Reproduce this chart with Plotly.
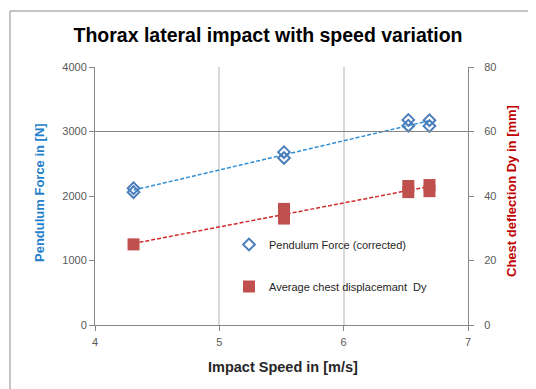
import numpy as np
import plotly.graph_objects as go

# Data
force_speed = [4.31, 4.31, 5.52, 5.52, 6.52, 6.52, 6.69, 6.69]
force_vals = [2060, 2120, 2590, 2680, 3090, 3180, 3085, 3175]
defl_speed = [4.31, 5.52, 5.52, 6.52, 6.52, 6.69, 6.69]
defl_vals = [25.0, 33.0, 36.0, 41.2, 43.1, 41.5, 43.4]

x_ticks = [4, 5, 6, 7]
y1_ticks = [0, 1000, 2000, 3000, 4000]
y2_ticks = [0, 20, 40, 60, 80]

title = "Thorax lateral impact with speed variation"
x_title = "Impact Speed in [m/s]"
y1_title = "Pendulum Force in [N]"
y2_title = "Chest deflection Dy in [mm]"
name1 = "Pendulum Force (corrected)"
name2 = "Average chest displacemant  Dy"

BLUE = "#4a7ebb"
RED = "#c0504d"
FONT = "Liberation Sans"

# linear trendlines fitted from the data
p1 = np.polyfit(force_speed, force_vals, 1)
p2 = np.polyfit(defl_speed, defl_vals, 1)
tx = [min(force_speed), max(force_speed)]
tx2 = [min(defl_speed), max(defl_speed)]

fig = go.Figure()
fig.add_trace(go.Scatter(x=tx, y=np.polyval(p1, tx), mode="lines",
                         line=dict(color="#2f8fd8", width=1.5, dash="4px,2px"),
                         showlegend=False, hoverinfo="skip"))
fig.add_trace(go.Scatter(x=tx2, y=np.polyval(p2, tx2), mode="lines", yaxis="y2",
                         line=dict(color="#d42a2a", width=1.5, dash="4px,2px"),
                         showlegend=False, hoverinfo="skip"))
fig.add_trace(go.Scatter(x=force_speed, y=force_vals, mode="markers", name=name1,
                         legendgroup="a",
                         marker=dict(symbol="diamond-open", size=9, color=BLUE,
                                     line=dict(width=2, color=BLUE))))
fig.add_trace(go.Scatter(x=defl_speed, y=defl_vals, mode="markers", name=name2,
                         legendgroup="b", yaxis="y2",
                         marker=dict(symbol="square", size=12, color=RED,
                                     line=dict(width=0))))

axis_common = dict(showline=True, linecolor="#868686", linewidth=1,
                   ticks="outside", ticklen=5, tickcolor="#868686",
                   tickfont=dict(family=FONT, size=11, color="#595959"),
                   zeroline=False)

fig.update_layout(
    width=536, height=389,
    margin=dict(l=87, r=76, t=59, b=72),
    paper_bgcolor="white", plot_bgcolor="white",
    font=dict(family=FONT),
    title=dict(text="<b>" + title + "</b>", x=(268 - 95) / 373, xref="paper",
               xanchor="center", y=1 - 27 / 389, yanchor="middle",
               font=dict(family=FONT, size=19.5, color="#000000")),
    xaxis=dict(range=[4, 7], tickvals=x_ticks, showgrid=True, gridcolor="#d9d9d9",
               gridwidth=1.5, mirror=False, ticklabelstandoff=2, **axis_common),
    yaxis=dict(range=[0, 4000], tickvals=y1_ticks, showgrid=False, **axis_common),
    yaxis2=dict(range=[0, 80], tickvals=y2_ticks, overlaying="y", side="right",
                showgrid=False, ticklabelstandoff=8, **axis_common),
    legend=dict(x=(229 - 95) / 373, y=(325 - 230) / 258, xanchor="left", yanchor="top",
                bgcolor="rgba(0,0,0,0)", tracegroupgap=23, traceorder="grouped",
                font=dict(family=FONT, size=11, color="#262626"),
                itemwidth=30),
    showlegend=True,
)

fig.add_shape(type="line", xref="paper", yref="y", x0=0, x1=1.015, y0=3000, y1=3000,
              line=dict(color="#868686", width=1))
# chart frame
fig.add_shape(type="rect", xref="paper", yref="paper",
              x0=(10 - 95) / 373, x1=(545 - 95) / 373,
              y0=(325 - 400) / 258, y1=(325 - 11) / 258,
              line=dict(color="#8c8c8c", width=1), layer="below")

fig.add_annotation(text="<b>" + y1_title + "</b>", xref="paper", yref="paper",
                   x=(39 - 95) / 373, y=(325 - 193) / 258, textangle=-90,
                   showarrow=False, xanchor="center", yanchor="middle",
                   font=dict(family=FONT, size=13, color="#1f7fcb"))
fig.add_annotation(text="<b>" + y2_title + "</b>", xref="paper", yref="paper",
                   x=(511 - 95) / 373, y=(325 - 191) / 258, textangle=-90,
                   showarrow=False, xanchor="center", yanchor="middle",
                   font=dict(family=FONT, size=13, color="#c00000"))
fig.add_annotation(text="<b>" + x_title + "</b>", xref="paper", yref="paper",
                   x=(283 - 95) / 373, y=(325 - 367) / 258,
                   showarrow=False, xanchor="center", yanchor="middle",
                   font=dict(family=FONT, size=14.5, color="#262626"))

fig.write_html("out.html")
